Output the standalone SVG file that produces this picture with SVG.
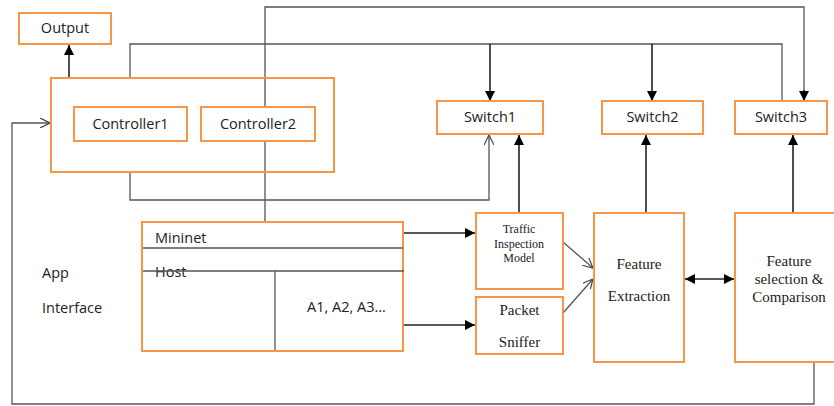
<svg xmlns="http://www.w3.org/2000/svg" width="834" height="406" viewBox="0 0 834 406">
<style>
.box{fill:#fff;stroke:#f79646;stroke-width:2}
.ln{fill:none;stroke:#555;stroke-width:1.3}
.ar{fill:none;stroke:#222;stroke-width:1.6}
.sans{font-family:"Open Sans","Liberation Sans",sans-serif;font-size:14.5px;fill:#222}
.serif{font-family:"Liberation Serif","Times New Roman",serif;fill:#222;text-anchor:middle}
</style>
<defs>
<marker id="fa" viewBox="0 0 10 10" refX="10" refY="5" markerWidth="10" markerHeight="10" markerUnits="userSpaceOnUse" orient="auto-start-reverse">
<path d="M0,0 L10,5 L0,10 z" fill="#000"/>
</marker>
<marker id="oa" viewBox="0 0 10 10" refX="10" refY="5" markerWidth="10" markerHeight="10" markerUnits="userSpaceOnUse" orient="auto">
<path d="M0,0 L10,5 L0,10" fill="none" stroke="#444" stroke-width="1.2"/>
</marker>
</defs>

<g id="connectors">
<line class="ar" x1="69" y1="78" x2="69" y2="45" marker-end="url(#fa)"/>
<polyline class="ln" points="130,78 130,44 782,44 782,101"/>
<line class="ar" x1="490" y1="44" x2="490" y2="101" marker-end="url(#fa)"/>
<line class="ar" x1="652" y1="44" x2="652" y2="101" marker-end="url(#fa)"/>
<polyline class="ln" points="265,107 265,7 804,7 804,91"/>
<line class="ar" x1="804" y1="90" x2="804" y2="101" marker-end="url(#fa)"/>
<polyline class="ln" points="130,172 130,200 489,200 489,135" marker-end="url(#oa)"/>
<line class="ln" x1="265" y1="141" x2="265" y2="222"/>
<line class="ar" x1="519" y1="213" x2="519" y2="135" marker-end="url(#fa)"/>
<line class="ar" x1="646" y1="213" x2="646" y2="135" marker-end="url(#fa)"/>
<line class="ar" x1="793" y1="213" x2="793" y2="135" marker-end="url(#fa)"/>
<line class="ar" x1="403" y1="233" x2="475" y2="233" marker-end="url(#fa)"/>
<line class="ar" x1="403" y1="325" x2="475" y2="325" marker-end="url(#fa)"/>
<line class="ln" x1="563" y1="242" x2="593" y2="268" marker-end="url(#oa)"/>
<line class="ln" x1="563" y1="313" x2="593" y2="279" marker-end="url(#oa)"/>
<line class="ar" x1="685" y1="279" x2="734" y2="279" marker-start="url(#fa)" marker-end="url(#fa)"/>
<polyline class="ln" points="814,362 814,404 12,404 12,123 50,123" marker-end="url(#oa)"/>
</g>

<g id="output">
<rect class="box" x="19" y="13" width="92" height="31"/>
<text class="sans" x="65" y="33" text-anchor="middle">Output</text>
</g>

<g id="controllers">
<rect class="box" x="51" y="78" width="283" height="94" fill="none" style="fill:none"/>
</g>
<g id="controller1">
<rect class="box" x="74" y="107" width="113" height="34"/>
<text class="sans" x="130.5" y="129" text-anchor="middle">Controller1</text>
</g>
<g id="controller2">
<rect class="box" x="201" y="107" width="114" height="34"/>
<text class="sans" x="258" y="129" text-anchor="middle">Controller2</text>
</g>

<g id="switch1">
<rect class="box" x="437" y="101" width="106" height="33"/>
<text class="sans" x="490" y="122" text-anchor="middle">Switch1</text>
</g>
<g id="switch2">
<rect class="box" x="602" y="101" width="101" height="33"/>
<text class="sans" x="652.5" y="122" text-anchor="middle">Switch2</text>
</g>
<g id="switch3">
<rect class="box" x="735" y="101" width="92" height="33"/>
<text class="sans" x="781" y="122" text-anchor="middle">Switch3</text>
</g>

<g id="app-interface">
<text class="sans" x="42" y="278">App</text>
<text class="sans" x="42" y="313">Interface</text>
</g>

<g id="mininet">
<rect class="box" x="142" y="222" width="261" height="129"/>
<line class="ln" x1="143" y1="248" x2="403" y2="248"/>
<text class="sans" x="155" y="243">Mininet</text>
<text class="sans" x="155" y="277">Host</text>
<line class="ln" x1="143" y1="271" x2="404" y2="271"/>
<line class="ln" x1="275" y1="271" x2="275" y2="350"/>
<text class="sans" x="307" y="312">A1, A2, A3…</text>
</g>

<g id="traffic-inspection">
<rect class="box" x="476" y="213" width="87" height="76"/>
<text class="serif" x="519" y="233" font-size="12">Traffic</text>
<text class="serif" x="519" y="247.5" font-size="12">Inspection</text>
<text class="serif" x="519" y="262" font-size="12">Model</text>
</g>

<g id="packet-sniffer">
<rect class="box" x="476" y="297" width="87" height="57"/>
<text class="serif" x="519.5" y="315" font-size="15">Packet</text>
<text class="serif" x="519.5" y="347" font-size="15">Sniffer</text>
</g>

<g id="feature-extraction">
<rect class="box" x="594" y="213" width="90" height="149"/>
<text class="serif" x="639" y="269" font-size="15">Feature</text>
<text class="serif" x="639" y="301" font-size="15">Extraction</text>
</g>

<g id="feature-selection">
<rect class="box" x="735" y="213" width="102" height="149"/>
<text class="serif" x="789" y="266" font-size="15">Feature</text>
<text class="serif" x="789" y="284" font-size="15">selection &amp;</text>
<text class="serif" x="789" y="302" font-size="15">Comparison</text>
</g>
</svg>
